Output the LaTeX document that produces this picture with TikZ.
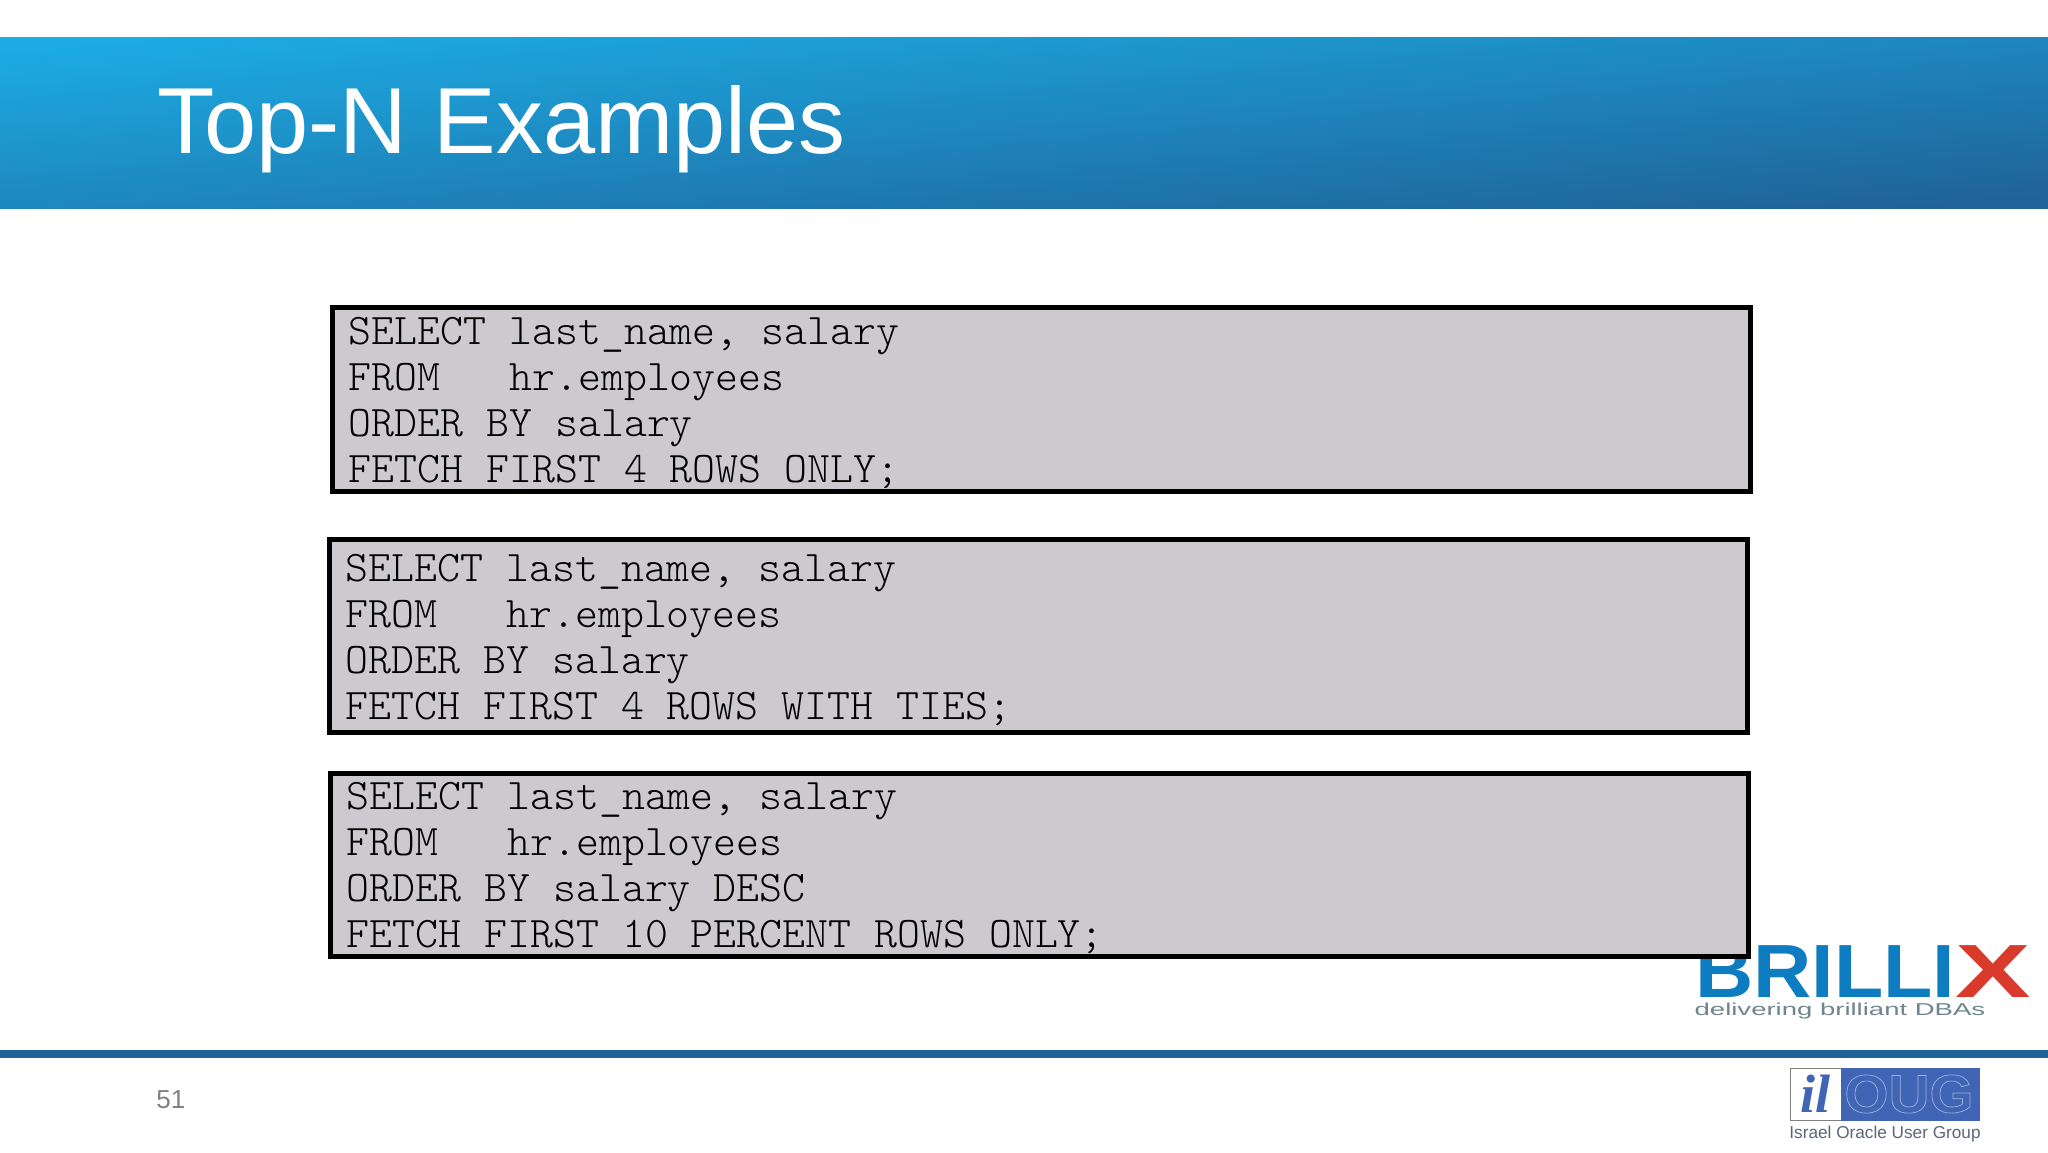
\documentclass[tikz,border=0pt]{standalone}
\usepackage{fontspec}
\setmainfont{Liberation Sans}
\setmonofont{lmmonolt10-regular.otf}
\newfontfamily\logoserif{Liberation Serif}
\usepackage{tikz}
\usetikzlibrary{positioning}
\definecolor{barlight}{HTML}{1CABE3}
\definecolor{bardark}{HTML}{1F6399}
\definecolor{codegray}{HTML}{CCCACE}
\definecolor{logoblue}{HTML}{0E7CC0}
\definecolor{logored}{HTML}{D93A2B}
\definecolor{logogray}{HTML}{6F858F}
\definecolor{ougblue}{HTML}{4065B4}
\definecolor{ougtext}{HTML}{5A6676}
\newcommand{\codesize}{\fontsize{21.85}{23}\selectfont\ttfamily}
\newcommand{\outlined}[1]{\special{pdf:code q 1 Tr 0.35 w 0.62 0.70 0.88 RG}#1\special{pdf:code Q}}
\newcommand{\codestart}{\spaceskip=.525em\relax\rule{0pt}{17.2pt}}
\begin{document}
\begin{tikzpicture}
    [x=0.5pt, y=-0.5pt,
    codebox/.style = {shape=rectangle, draw=black, line width=2.5pt, fill=codegray,
        anchor=north west, align=left, inner xsep=8.4pt, inner ysep=0pt,
        text width=692.2pt, font=\codesize}]

    \useasboundingbox (0,0) rectangle (2048,1152);
    \fill[white] (0,0) rectangle (2048,1152);

    % header and footer
    \shade[top color=barlight, bottom color=bardark, shading angle=5]
        (0,37) rectangle (2048,208);
    \node[anchor=base west, inner sep=0pt, text=white, font=\fontsize{46.9}{50}\selectfont]
        (title) at (157,153) {Top-N Examples};
    \fill[bardark] (0,1050) rectangle (2048,1058);
    \node[anchor=base west, inner sep=0pt, text=gray, font=\fontsize{13}{16}\selectfont]
        (pagenum) at (156,1108) {51};

    % logos
    \node[anchor=base west, inner sep=0pt, text=logoblue, xscale=1.07, font=\fontsize{37.7}{40}\selectfont\bfseries]
        (brill) at (1695,997) {BRILLI};
    \node[anchor=base west, inner sep=0pt, text=logored, xscale=1.5, font=\fontsize{37.7}{40}\selectfont\bfseries]
        (brillx) at (1955,997) {X};
    \node[anchor=base west, inner sep=0pt, text=logogray, xscale=1.6, font=\fontsize{8.6}{10}\selectfont]
        (slogan) at (1694,1015) {delivering brilliant DBAs};

    \draw[gray, line width=0.4pt, fill=white] (1790,1068) rectangle (1842,1120);
    \fill[ougblue] (1841,1068) rectangle (1980,1121);
    \node[inner sep=0pt, text=ougblue, font=\fontsize{27}{28}\logoserif\bfseries\itshape]
        (il) at (1815,1094) {il};
    \node[inner sep=0pt, text=white, xscale=1.05, font=\fontsize{27}{28}\selectfont\bfseries]
        (oug) at (1909,1094) {\outlined{OUG}};
    \node[anchor=base, inner sep=0pt, text=ougtext, font=\fontsize{8.6}{10}\selectfont]
        (ilname) at (1885,1138) {Israel Oracle User Group};

    % code boxes
    \node[codebox, minimum height=92.25pt] (top) at (329.5,304.5)
        {\codestart SELECT last\_name, salary\\ FROM\ \ \ hr.employees\\ ORDER BY salary\\ FETCH FIRST 4 ROWS ONLY;};
    \node[codebox, minimum height=96.5pt] (ties) at (326.5,537)
        {\codestart SELECT last\_name, salary\\ FROM\ \ \ hr.employees\\ ORDER BY salary\\ FETCH FIRST 4 ROWS WITH TIES;};
    \node[codebox, minimum height=91.5pt] (percent) at (327.5,770.5)
        {\codestart SELECT last\_name, salary\\ FROM\ \ \ hr.employees\\ ORDER BY salary DESC\\ FETCH FIRST 10 PERCENT ROWS ONLY;};
\end{tikzpicture}
\end{document}
